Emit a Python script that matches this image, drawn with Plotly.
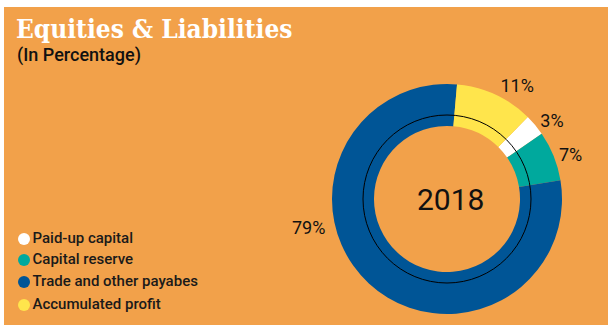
import plotly.graph_objects as go

labels = ["Paid-up capital", "Capital reserve", "Trade and other payabes", "Accumulated profit"]
values = [3, 7, 79, 11]
colors = ["#FFFFFF", "#00A99D", "#005596", "#FFE54C"]
center_text = "2018"
title = "Equities & Liabilities"
subtitle = "(In Percentage)"

W, H = 608, 325
BG = "#F2A14A"
cx, cy, R = 447, 199, 115
TXT = "#111111"

fig = go.Figure()
fig.add_trace(go.Pie(
    labels=labels, values=values, sort=False, direction="clockwise",
    rotation=44.6, hole=0.635,
    marker=dict(colors=colors, line=dict(width=0)),
    texttemplate="%{value}%",
    textposition=["outside", "outside", "none", "outside"],
    textfont=dict(family="Roboto", size=18, color=TXT),
    showlegend=False, hoverinfo="label+percent",
    domain=dict(x=[(cx - R) / W, (cx + R) / W], y=[1 - (cy + R) / H, 1 - (cy - R) / H]),
))

# legend drawn as markers + text in pixel coordinates
leg_y = [239, 260, 282, 305]
fig.add_trace(go.Scatter(
    x=[24] * len(labels), y=leg_y, mode="markers+text",
    text=labels, textposition="middle right",
    textfont=dict(family="Roboto", size=15, color="#1a1a1a", weight=500),
    marker=dict(color=colors, size=12, symbol="circle", line=dict(width=0)),
    showlegend=False, hoverinfo="skip", cliponaxis=False,
))

big = labels.index("Trade and other payabes")
r2 = 84
fig.update_layout(
    width=W, height=H, margin=dict(l=0, r=0, t=0, b=0),
    paper_bgcolor="white", plot_bgcolor="rgba(0,0,0,0)",
    xaxis=dict(visible=False, range=[0, W], fixedrange=True),
    yaxis=dict(visible=False, range=[H, 0], fixedrange=True),
    showlegend=False,
    shapes=[
        dict(type="rect", xref="paper", yref="paper", x0=4 / W, x1=1, y0=0, y1=1 - 7 / H,
             fillcolor=BG, line=dict(width=0), layer="below"),
        dict(type="circle", xref="paper", yref="paper",
             x0=(cx - r2) / W, x1=(cx + r2) / W, y0=1 - (cy + r2) / H, y1=1 - (cy - r2) / H,
             line=dict(color="black", width=1), layer="above"),
    ],
    annotations=[
        dict(text="<b>" + title + "</b>", x=14 / W, y=1 - 12 / H, xref="paper", yref="paper",
             xanchor="left", yanchor="top", showarrow=False,
             font=dict(family="DejaVu Serif Condensed", size=26, color="white")),
        dict(text=subtitle, x=15 / W, y=1 - 42 / H, xref="paper", yref="paper",
             xanchor="left", yanchor="top", showarrow=False,
             font=dict(family="Roboto", size=18, color=TXT, weight=500)),
        dict(text=center_text, x=(cx + 3) / W, y=1 - cy / H, xref="paper", yref="paper",
             xanchor="center", yanchor="middle",
             showarrow=False, font=dict(family="Roboto", size=30, color=TXT)),
        dict(text=f"{values[big]}%", x=308 / W, y=1 - 227 / H, xref="paper", yref="paper",
             xanchor="center", yanchor="middle",
             showarrow=False, font=dict(family="Roboto", size=18, color=TXT)),
    ],
)
fig.write_html("out.html", config={"displayModeBar": False},
               post_script="document.body.style.margin='0px';")
